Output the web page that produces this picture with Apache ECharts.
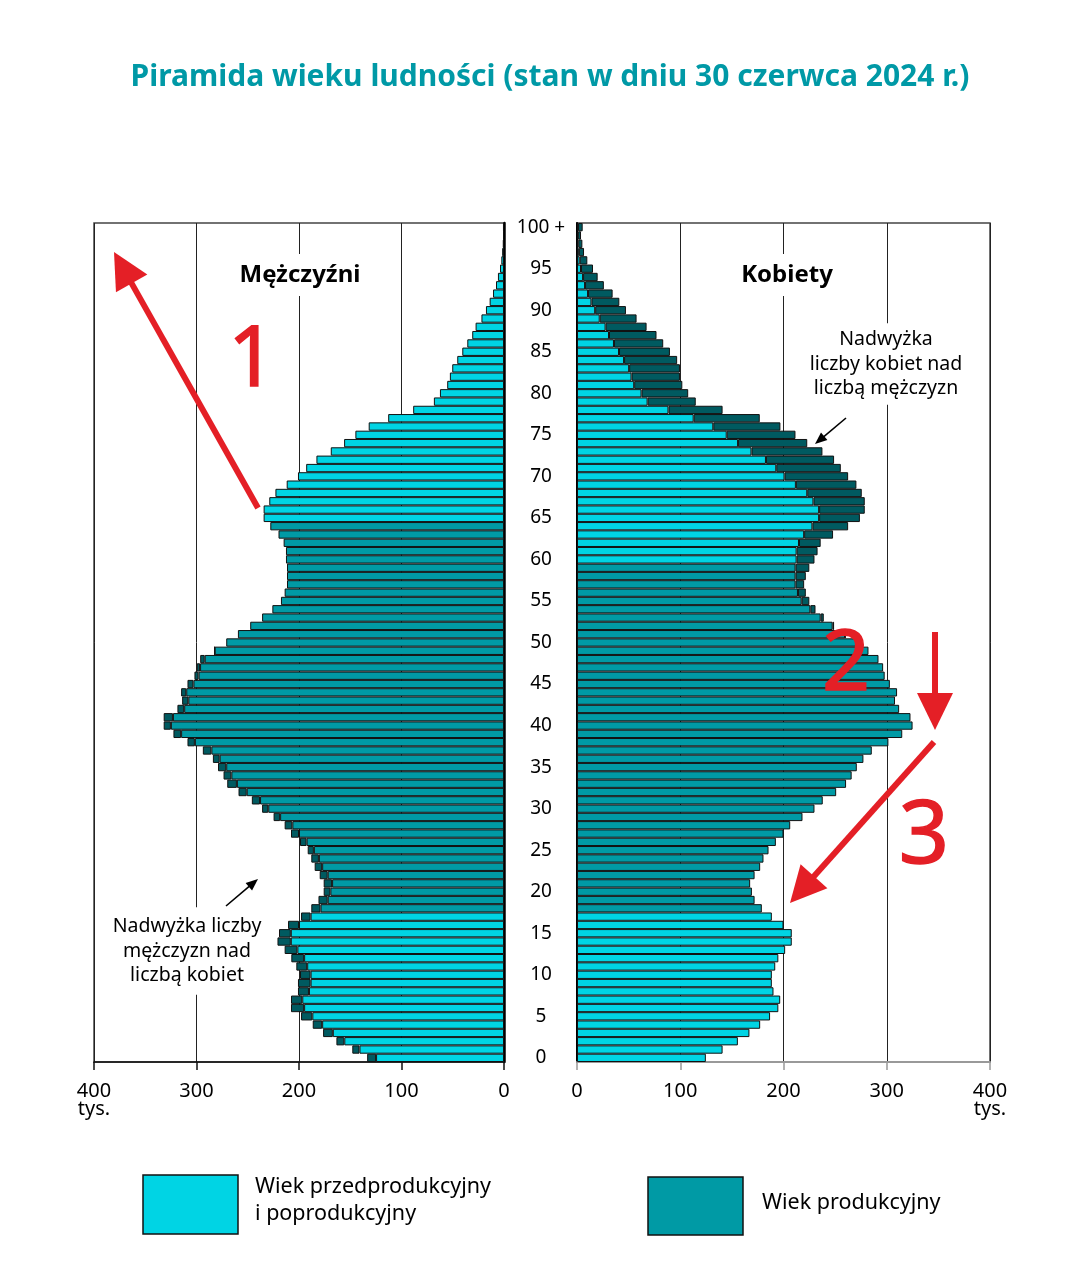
<!DOCTYPE html>
<html><head><meta charset="utf-8">
<script src="https://cdn.jsdelivr.net/npm/echarts@6/dist/echarts.min.js"></script>
<style>html,body{margin:0;padding:0;background:#fff}#c{width:1084px;height:1276px}</style>
</head><body><div id="c"></div>
<script>
// ---------- data (thousands) ----------
const ages = ['0','1','2','3','4','5','6','7','8','9','10','11','12','13','14','15','16','17','18','19','20','21','22','23','24','25','26','27','28','29','30','31','32','33','34','35','36','37','38','39','40','41','42','43','44','45','46','47','48','49','50','51','52','53','54','55','56','57','58','59','60','61','62','63','64','65','66','67','68','69','70','71','72','73','74','75','76','77','78','79','80','81','82','83','84','85','86','87','88','89','90','91','92','93','94','95','96','97','98','99','100'];
const males = [133.5,148,163.5,176.5,186.6,198,207.8,207.8,201,201,
  199,202.6,207.5,214,221,219.5,210.7,198,188,181,
  175.9,175.9,179.8,184.7,188,191.5,199,207.8,214,224.8,
  236,246,259,270,273.6,279,284,293.8,308.8,322.5,
  332,332,318.6,314,315,308.8,302,299.7,296.4,282.4,
  271,259.6,247.6,236,226,217.6,214,211.7,211.7,211.7,
  212.7,212.7,215,220,228,234.5,234.5,229,223,212,
  201,193,183,169,156,145,132,113,88.6,68.4,
  62.5,55.4,52.8,50.5,45.6,40.7,35.8,31,27.7,22,
  17.6,14,10.7,7.8,5.9,3.9,2.6,1.8,1.2,0.8,
  1.0];
const females = [124.8,141,155.8,167,177.4,187,195,196.8,190.3,188.7,
  188.7,192,195,201.6,208,208,200,188.7,179,172,
  169.4,167.7,172,177.4,180.6,185.5,192.6,200,206.5,218.4,
  230,238,251,260.6,266,271,277.4,285.5,301.6,315,
  325,323,312,308,310,303,298,296.5,292,282.3,
  272,260,249,239,231,225,221.6,220,221.6,225,
  230,233,236,248,262.6,274,278.7,278.7,275.8,270.6,
  262.6,255.5,249,237.7,223,211.6,197,177,141,115,
  107.7,102,99.7,99.7,97,90,83.5,77,67.4,57.7,
  47.4,41,34.5,26,20,15.5,10,6.8,5.2,3.9,
  5.5];
const xTicks = [0,100,200,300,400];
const maleWorkingAges = [18, 64];
const femaleWorkingAges = [18, 59];
const legendLabels = ['Wiek przedprodukcyjny\ni poprodukcyjny', 'Wiek produkcyjny'];

// ---------- derived ----------
const base = ages.map((a,i)=>Math.min(males[i],females[i]));
const mExcess = ages.map((a,i)=>{const d=males[i]-females[i];return d>0?d:'-';});
const fExcess = ages.map((a,i)=>{const d=females[i]-males[i];return d>0?d:'-';});

const LIGHT='#00d4e4', MID='#009aa5', EXC='#005a60', RED='#e41f26';
const FONT='"Noto Sans", sans-serif';
const inRange=(i,r)=>i>=r[0]&&i<=r[1];

const chart = echarts.init(document.getElementById('c'), null, {renderer:'canvas'});

function xAxisCfg(idx, inverse, lineColor){
  return {gridIndex:idx, type:'value', min:xTicks[0], max:xTicks[xTicks.length-1], interval:100, inverse:inverse,
    axisLine:{show:true,lineStyle:{color:lineColor,width:inverse?1.5:2}},
    axisTick:{show:true,length:8,lineStyle:{color:lineColor,width:1.5}},
    splitLine:{show:true,lineStyle:{color:'#222',width:1}},
    axisLabel:{color:'#000',fontSize:20,fontFamily:FONT,margin:20,lineHeight:18,
      formatter:v=>v===400?'400\ntys.':String(v)}};
}

function arrow(x1,y1,x2,y2,color,w,hl,hw){
  const dx=x2-x1, dy=y2-y1, L=Math.hypot(dx,dy), ux=dx/L, uy=dy/L;
  const bx=x2-ux*hl, by=y2-uy*hl, nx=-uy, ny=ux;
  return [
    {type:'line',z:110,shape:{x1:x1,y1:y1,x2:bx+ux*2,y2:by+uy*2},style:{stroke:color,lineWidth:w,lineCap:'butt'}},
    {type:'polygon',z:111,shape:{points:[[x2,y2],[bx+nx*hw,by+ny*hw],[bx-nx*hw,by-ny*hw]]},style:{fill:color}}
  ];
}

const graphics = [
  {type:'text',z:100,style:{text:'Mężczyźni',x:300,y:275,align:'center',verticalAlign:'middle',
    font:'bold 24px '+FONT,fill:'#000',backgroundColor:'#fff',padding:[9,4]}},
  {type:'text',z:100,style:{text:'Kobiety',x:787,y:275,align:'center',verticalAlign:'middle',
    font:'bold 24px '+FONT,fill:'#000',backgroundColor:'#fff',padding:[9,4]}},
  {type:'text',z:100,style:{text:'Nadwyżka\nliczby kobiet nad\nliczbą mężczyzn',x:886,y:364,align:'center',verticalAlign:'middle',
    font:'19.5px '+FONT,lineHeight:24.5,fill:'#000',backgroundColor:'#fff',padding:[4,2]}},
  {type:'text',z:100,style:{text:'Nadwyżka liczby\nmężczyzn nad\nliczbą kobiet',x:187,y:951,align:'center',verticalAlign:'middle',
    font:'19.5px '+FONT,lineHeight:24.5,fill:'#000',backgroundColor:'#fff',padding:[7,2]}},
  ...arrow(226,906,258,879,'#000',1.6,12,5),
  ...arrow(846,418,815,444,'#000',1.6,12,5),
  ...arrow(258,508,114,252,RED,6,36,18),
  ...arrow(935,632,935,730,RED,6,37,18),
  ...arrow(934,742,790,903,RED,6,36,18),
  {type:'text',z:112,style:{text:'1',x:252,y:362,align:'center',verticalAlign:'middle',font:'84px '+FONT,fill:RED,stroke:RED,lineWidth:1.5}},
  {type:'text',z:112,style:{text:'2',x:846,y:666,align:'center',verticalAlign:'middle',font:'84px '+FONT,fill:RED,stroke:RED,lineWidth:1.5}},
  {type:'text',z:112,style:{text:'3',x:924,y:838,align:'center',verticalAlign:'middle',font:'88px '+FONT,fill:RED,stroke:RED,lineWidth:1.5}},
  // legend
  {type:'rect',z:100,shape:{x:143,y:1175,width:95,height:59},style:{fill:LIGHT,stroke:'#111',lineWidth:1.5}},
  {type:'rect',z:100,shape:{x:648,y:1177,width:95,height:58},style:{fill:MID,stroke:'#111',lineWidth:1.5}},
  {type:'text',z:100,style:{text:legendLabels[0],x:255,y:1200,align:'left',verticalAlign:'middle',
    font:'21.5px '+FONT,lineHeight:27,fill:'#000'}},
  {type:'text',z:100,style:{text:legendLabels[1],x:762,y:1203,align:'left',verticalAlign:'middle',
    font:'21.5px '+FONT,fill:'#000'}}
];

const barCommon = {type:'bar',barCategoryGap:'0%',silent:true,animation:false};
const option = {
  animation:false,
  backgroundColor:'#fff',
  title:{text:'Piramida wieku ludności (stan w dniu 30 czerwca 2024 r.)',left:545,top:57,textAlign:'center',
    textStyle:{color:'#0099a6',fontSize:30,fontWeight:'bold',fontFamily:FONT}},
  grid:[
    {left:94,top:223,width:410,height:839,show:true,borderColor:'#444',borderWidth:1.5},
    {left:577,top:223,width:413,height:839,show:true,borderColor:'#444',borderWidth:1.5}
  ],
  xAxis:[xAxisCfg(0,true,'#111'), xAxisCfg(1,false,'#999')],
  yAxis:[
    {gridIndex:0,type:'category',data:ages,position:'right',
      axisLine:{show:true,lineStyle:{color:'#000',width:2.5}},axisTick:{show:false},axisLabel:{show:false},splitLine:{show:false}},
    {gridIndex:1,type:'category',data:ages,position:'left',
      axisLine:{show:true,lineStyle:{color:'#000',width:2}},axisTick:{show:false},splitLine:{show:false},
      axisLabel:{show:true,interval:4,margin:36,align:'center',color:'#000',fontSize:19,fontFamily:FONT,
        formatter:v=>v==='100'?'100 +':v}}
  ],
  series:[
    Object.assign({},barCommon,{name:'Mężczyźni',xAxisIndex:0,yAxisIndex:0,stack:'m',data:base,
      itemStyle:{color:p=>inRange(p.dataIndex,maleWorkingAges)?MID:LIGHT,borderColor:'#111',borderWidth:1}}),
    Object.assign({},barCommon,{name:'Nadwyżka mężczyzn',xAxisIndex:0,yAxisIndex:0,stack:'m',data:mExcess,
      itemStyle:{color:EXC,borderColor:'#111',borderWidth:1}}),
    Object.assign({},barCommon,{name:'Kobiety',xAxisIndex:1,yAxisIndex:1,stack:'f',data:base,
      itemStyle:{color:p=>inRange(p.dataIndex,femaleWorkingAges)?MID:LIGHT,borderColor:'#111',borderWidth:1}}),
    Object.assign({},barCommon,{name:'Nadwyżka kobiet',xAxisIndex:1,yAxisIndex:1,stack:'f',data:fExcess,
      itemStyle:{color:EXC,borderColor:'#111',borderWidth:1}})
  ],
  graphic:graphics
};
chart.setOption(option);
</script>
</body></html>
